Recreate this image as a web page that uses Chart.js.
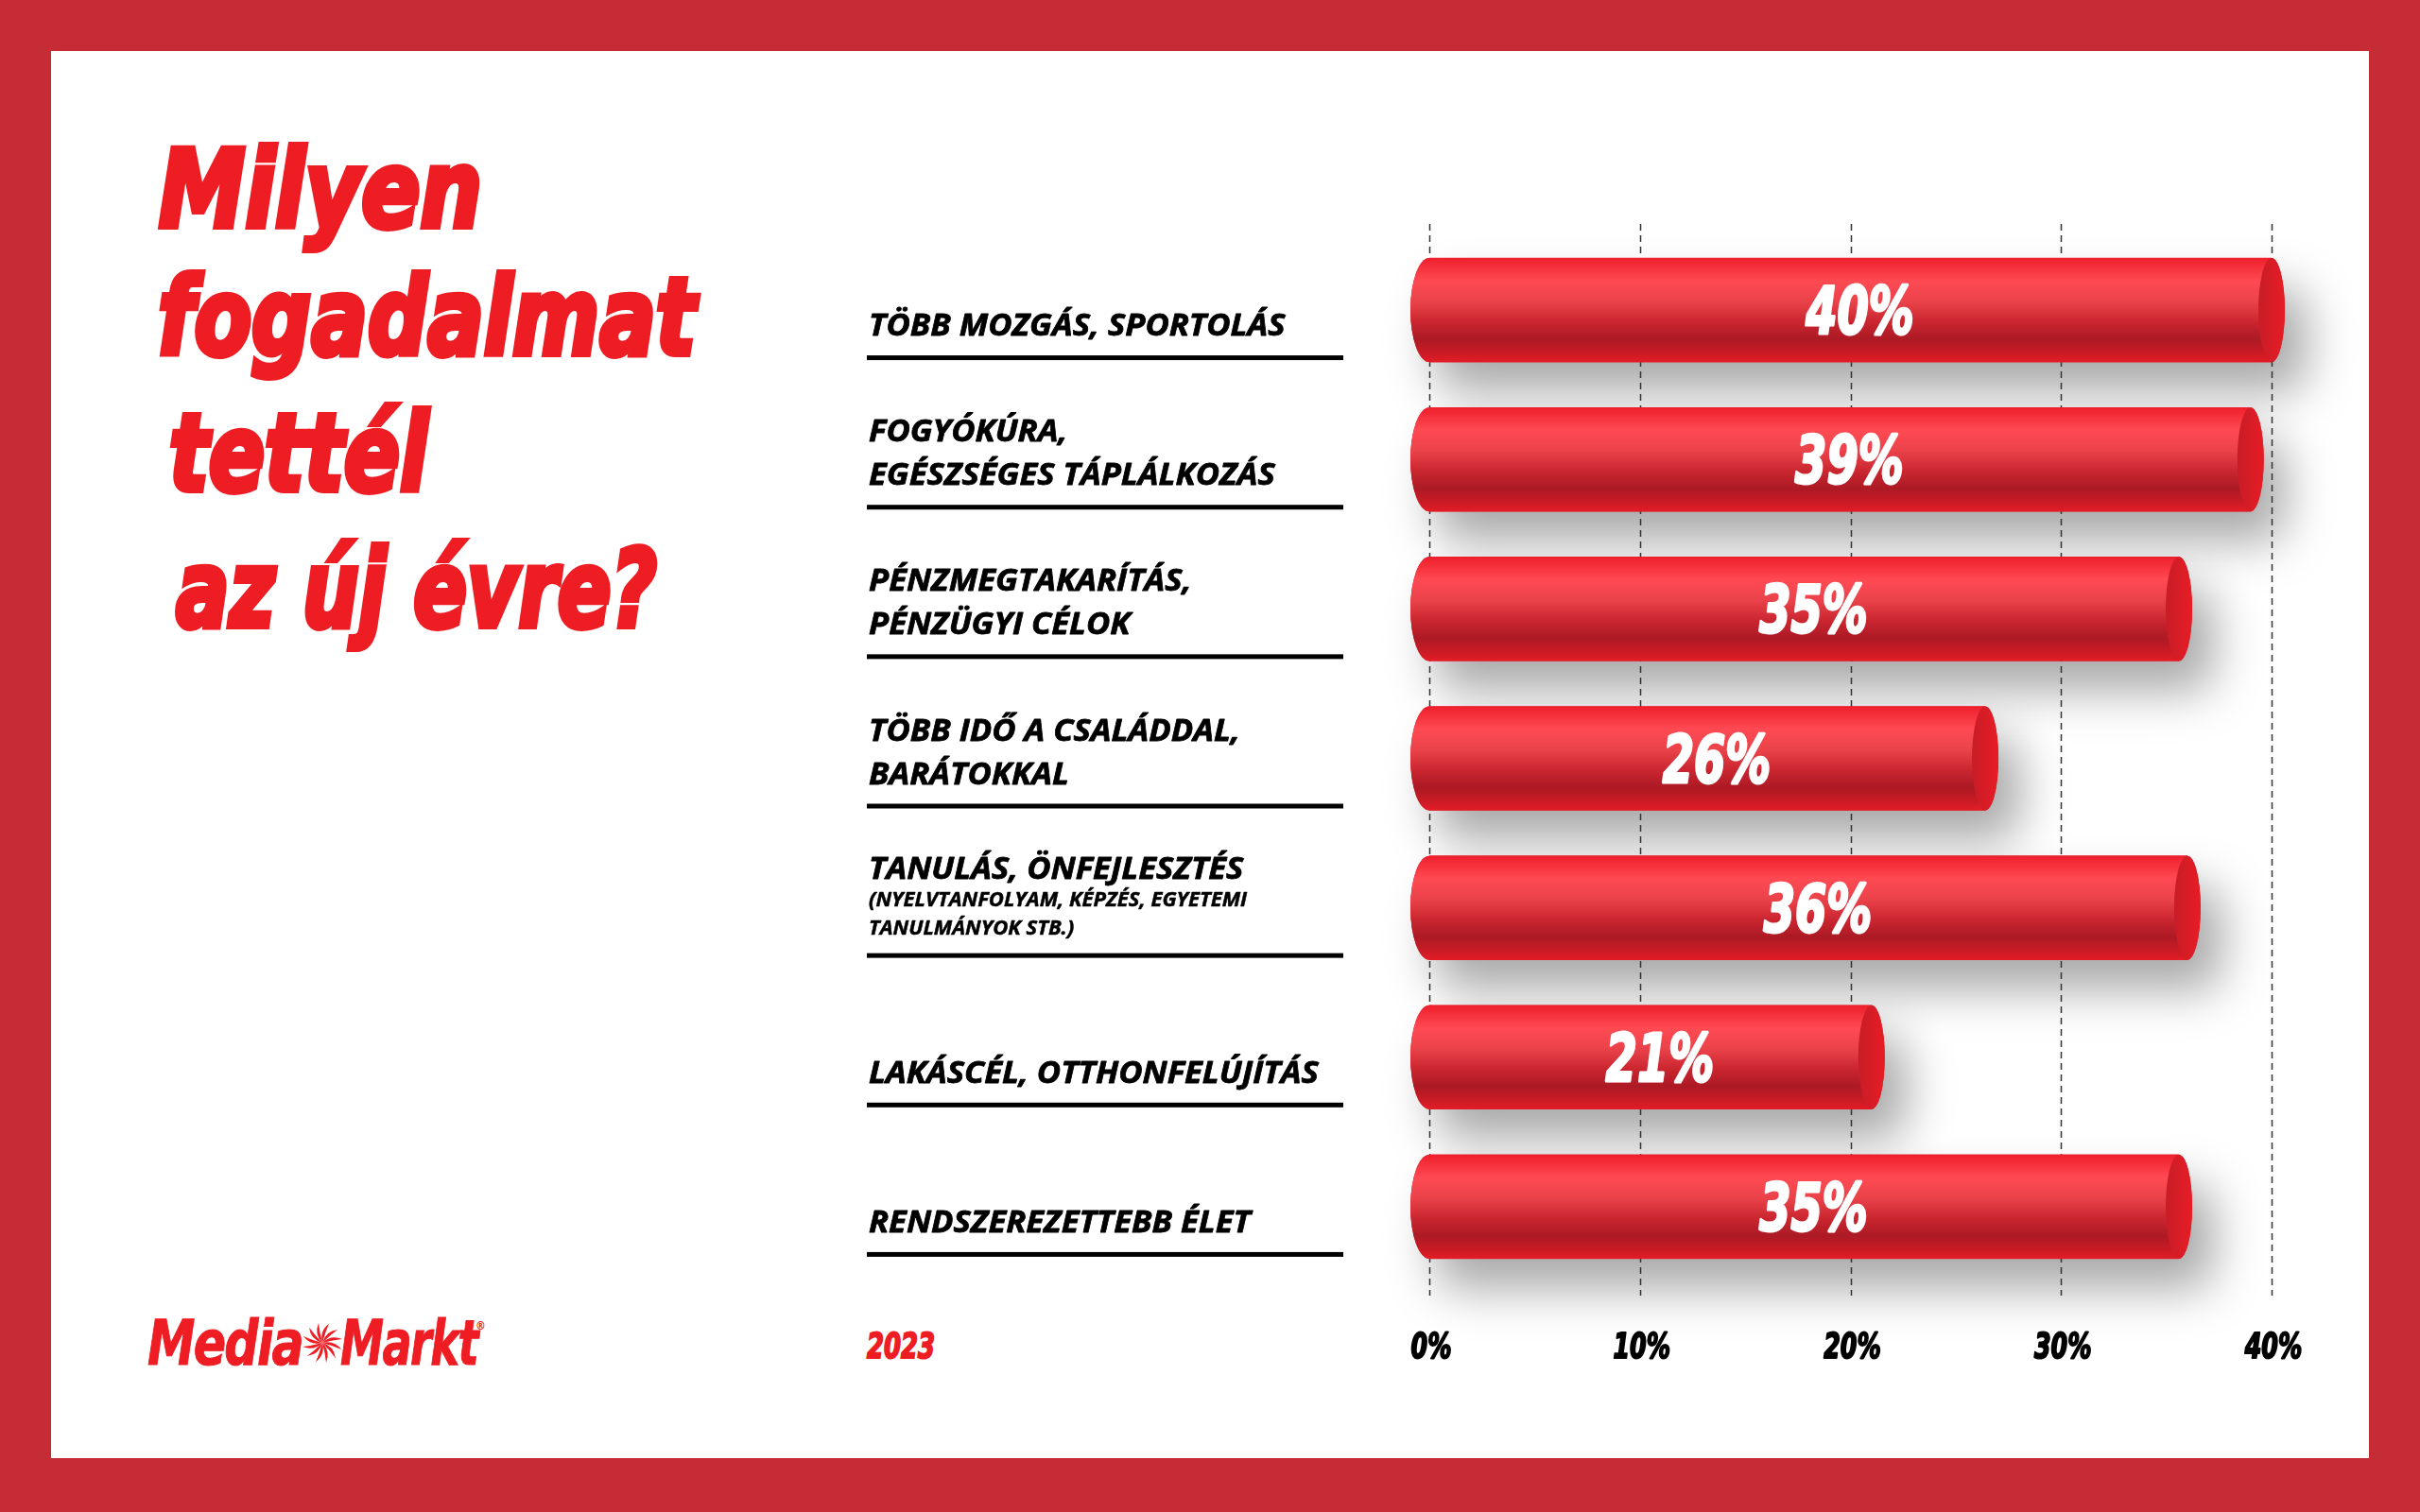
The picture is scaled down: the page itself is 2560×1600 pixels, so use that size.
<!DOCTYPE html>
<html>
<head>
<meta charset="utf-8">
<script src="https://cdn.jsdelivr.net/npm/chart.js@4.4.0/dist/chart.umd.min.js"></script>
<style>
  html, body { margin: 0; padding: 0; }
  body { width: 2560px; height: 1600px; background: #c62c36; position: relative; overflow: hidden; }
  #sheet { position: absolute; left: 54px; top: 54px; width: 2452px; height: 1489px; background: #fff; }
  #chart { position: absolute; left: 0; top: 0; }
  .cond { position: absolute; white-space: nowrap; color: #ee1d23; transform-origin: 0 0;
          font-family: 'Liberation Sans Narrow', 'DejaVu Sans Condensed', sans-serif; font-style: italic; font-weight: 700; }
  .title { font-size: 114px; line-height: 114px; -webkit-text-stroke: 6px #ee1d23; }
  .logo { font-size: 66px; line-height: 66px; letter-spacing: -2px; -webkit-text-stroke: 1px #ee1d23; }
  #year { font-size: 38px; line-height: 38px; -webkit-text-stroke: 2px #ee1d23; }
  #spiral { position: absolute; left: 318px; top: 1398px; }
</style>
</head>
<body>
<div id="sheet"></div>
<div class="cond title" data-w="342" style="left:168px; top:144px;">Milyen</div>
<div class="cond title" data-w="569" style="left:167px; top:279px;">fogadalmat</div>
<div class="cond title" data-w="274" style="left:179px; top:423px;">tettél</div>
<div class="cond title" data-w="509" style="left:186px; top:567px;">az új évre?</div>
<div class="cond logo" data-w="164" style="left:156px; top:1389px;">Media</div>
<div class="cond logo" data-w="145" style="left:360px; top:1389px;">Markt</div>
<div class="cond" style="left:503px; top:1396px; font-size:12px;">®</div>
<svg id="spiral" width="46" height="46" viewBox="-23 -23 46 46"></svg>
<div class="cond" id="year" data-w="72" style="left:917px; top:1405px;">2023</div>
<canvas id="chart" width="2560" height="1600"></canvas>
<script>
// adatok
const categories = [
  ['TÖBB MOZGÁS, SPORTOLÁS'],
  ['FOGYÓKÚRA,', 'EGÉSZSÉGES TÁPLÁLKOZÁS'],
  ['PÉNZMEGTAKARÍTÁS,', 'PÉNZÜGYI CÉLOK'],
  ['TÖBB IDŐ A CSALÁDDAL,', 'BARÁTOKKAL'],
  ['TANULÁS, ÖNFEJLESZTÉS'],
  ['LAKÁSCÉL, OTTHONFELÚJÍTÁS'],
  ['RENDSZEREZETTEBB ÉLET']
];
const categoryNotes = [null, null, null, null, ['(NYELVTANFOLYAM, KÉPZÉS, EGYETEMI', 'TANULMÁNYOK STB.)'], null, null];
// a hengerek hossza, a felirat külön
const values = [40, 39, 35.6, 26.4, 36, 21, 35.6];
const valueLabels = ['40%', '39%', '35%', '26%', '36%', '21%', '35%'];
const tickValues = [0, 10, 20, 30, 40];
const tickLabels = ['0%', '10%', '20%', '30%', '40%'];

const condFont = "'Liberation Sans Narrow', 'DejaVu Sans Condensed', sans-serif";
const labelFont = "'Open Sans', Lato, sans-serif";

// címsorok szélességének igazítása
document.querySelectorAll('[data-w]').forEach(el => {
  const w = el.getBoundingClientRect().width;
  el.style.transform = 'scaleX(' + (parseFloat(el.dataset.w) / w) + ')';
});

// spirál a logóhoz
const sp = document.getElementById('spiral');
for (let k = 0; k < 12; k++) {
  const p = document.createElementNS('http://www.w3.org/2000/svg', 'path');
  p.setAttribute('d', 'M0,0 Q9,-9 21,-4 Q11,-3 0,0 Z');
  p.setAttribute('fill', '#ee1d23');
  p.setAttribute('transform', 'rotate(' + (k * 30) + ')');
  sp.appendChild(p);
}

function barGradient(ctx, top, bottom) {
  const g = ctx.createLinearGradient(0, top, 0, bottom);
  g.addColorStop(0, '#ee1f2c');
  g.addColorStop(0.22, '#ff4a53');
  g.addColorStop(0.42, '#ea424a');
  g.addColorStop(0.62, '#c9252f');
  g.addColorStop(0.78, '#ac1a24');
  g.addColorStop(0.92, '#cc1b25');
  g.addColorStop(1, '#e31c26');
  return g;
}

const BAR_H = 110;
const LEFT_RX = 20;
const RIGHT_RX = 14;

// szűkített, vastagított betű
function condText(ctx, text, x, y, squeeze, stroke) {
  ctx.save();
  ctx.translate(x, y);
  ctx.scale(squeeze, 1);
  if (stroke) { ctx.lineWidth = stroke; ctx.lineJoin = 'round'; ctx.strokeText(text, 0, 0); }
  ctx.fillText(text, 0, 0);
  ctx.restore();
}

function silhouette(ctx, b, x0) {
  const top = b.y - b.height / 2, h = b.height;
  ctx.beginPath();
  ctx.ellipse(x0, b.y, LEFT_RX, h / 2, 0, Math.PI / 2, Math.PI * 1.5);
  ctx.lineTo(b.x, top);
  ctx.ellipse(b.x, b.y, RIGHT_RX, h / 2, 0, -Math.PI / 2, Math.PI / 2);
  ctx.closePath();
}

const decor = {
  id: 'decor',
  beforeDatasetsDraw(chart) {
    const { ctx, chartArea, scales: { x } } = chart;
    const bars = chart.getDatasetMeta(0).data;
    const x0 = x.getPixelForValue(0);
    // árnyék
    ctx.save();
    ctx.shadowColor = 'rgba(0,0,0,0.34)';
    ctx.shadowBlur = 50;
    ctx.shadowOffsetX = 24;
    ctx.shadowOffsetY = 32;
    ctx.fillStyle = '#d0222c';
    bars.forEach(b => { silhouette(ctx, b, x0); ctx.fill(); });
    ctx.restore();
    // szaggatott rácsvonalak
    ctx.save();
    ctx.strokeStyle = '#333';
    ctx.lineWidth = 1.5;
    ctx.setLineDash([7, 5]);
    x.ticks.forEach(t => {
      const px = Math.round(x.getPixelForValue(t.value)) + 0.5;
      ctx.beginPath();
      ctx.moveTo(px, chartArea.top - 12);
      ctx.lineTo(px, chartArea.bottom + 15);
      ctx.stroke();
    });
    ctx.restore();
  },
  afterDatasetsDraw(chart) {
    const { ctx, scales: { x } } = chart;
    const bars = chart.getDatasetMeta(0).data;
    const x0 = x.getPixelForValue(0);
    bars.forEach((b, i) => {
      const top = b.y - b.height / 2, bottom = b.y + b.height / 2;
      ctx.save();
      ctx.fillStyle = barGradient(ctx, top, bottom);
      ctx.beginPath();
      ctx.ellipse(x0, b.y, LEFT_RX, b.height / 2, 0, Math.PI / 2, Math.PI * 1.5);
      ctx.lineTo(x0 + 2, top);
      ctx.lineTo(x0 + 2, bottom);
      ctx.closePath();
      ctx.fill();
      const g = ctx.createLinearGradient(b.x - RIGHT_RX, 0, b.x + RIGHT_RX, 0);
      g.addColorStop(0, '#c71d27');
      g.addColorStop(1, '#e81c25');
      ctx.fillStyle = g;
      ctx.beginPath();
      ctx.ellipse(b.x, b.y, RIGHT_RX, b.height / 2, 0, 0, Math.PI * 2);
      ctx.fill();
      // érték felirat
      ctx.fillStyle = '#fff';
      ctx.strokeStyle = '#fff';
      ctx.font = 'italic bold 70px ' + condFont;
      ctx.textAlign = 'center';
      ctx.textBaseline = 'alphabetic';
      condText(ctx, valueLabels[i], x.getPixelForValue(values[i] / 2) + 10, b.y + 25, 0.76, 3);
      ctx.restore();
    });
  },
  afterDraw(chart) {
    const { ctx, scales: { x, y } } = chart;
    ctx.save();
    // x tengely feliratai
    ctx.fillStyle = '#000';
    ctx.strokeStyle = '#000';
    ctx.font = 'italic bold 38px ' + condFont;
    ctx.textAlign = 'center';
    ctx.textBaseline = 'alphabetic';
    x.ticks.forEach(t => {
      condText(ctx, tickLabels[tickValues.indexOf(t.value)], x.getPixelForValue(t.value) + 2, 1437, 0.74, 2);
    });
    // kategóriák
    ctx.textAlign = 'left';
    categories.forEach((lines, i) => {
      const c = y.getPixelForValue(i);
      const rule = c + 48;
      ctx.fillRect(917, rule, 504, 5);
      const notes = categoryNotes[i];
      ctx.font = 'italic bold 33px ' + labelFont;
      if (notes) {
        condText(ctx, lines[0], 919, rule - 79, 1.05, 0.8);
        ctx.font = 'italic bold 21px ' + labelFont;
        condText(ctx, notes[0], 919, rule - 50, 1.05, 0.5);
        condText(ctx, notes[1], 919, rule - 20, 1.05, 0.5);
      } else {
        lines.forEach((t, j) => {
          condText(ctx, t, 919, rule - 21 - (lines.length - 1 - j) * 46, 1.05, 0.8);
        });
      }
    });
    ctx.restore();
  }
};

new Chart(document.getElementById('chart'), {
  type: 'bar',
  data: {
    labels: categories.map(l => l.join(' ')),
    datasets: [{
      data: values,
      barThickness: BAR_H,
      borderWidth: 0,
      backgroundColor(c) {
        const y = c.chart.scales.y;
        if (!y || c.dataIndex === undefined) return '#d9262f';
        const cy = y.getPixelForValue(c.dataIndex);
        if (!isFinite(cy)) return '#d9262f';
        return barGradient(c.chart.ctx, cy - BAR_H / 2, cy + BAR_H / 2);
      }
    }]
  },
  options: {
    indexAxis: 'y',
    responsive: false,
    animation: false,
    events: [],
    layout: { padding: { left: 1512, right: 157, top: 249, bottom: 100 } },
    plugins: { legend: { display: false }, tooltip: { enabled: false } },
    scales: {
      y: { type: 'category', display: false, offset: true },
      x: {
        min: 0, max: 40,
        grid: { display: false },
        border: { display: false },
        afterBuildTicks(s) { s.ticks = tickValues.map(v => ({ value: v })); },
        afterFit(s) { s.height = 144; },
        ticks: { display: false }
      }
    }
  },
  plugins: [decor]
});
</script>
</body>
</html>
